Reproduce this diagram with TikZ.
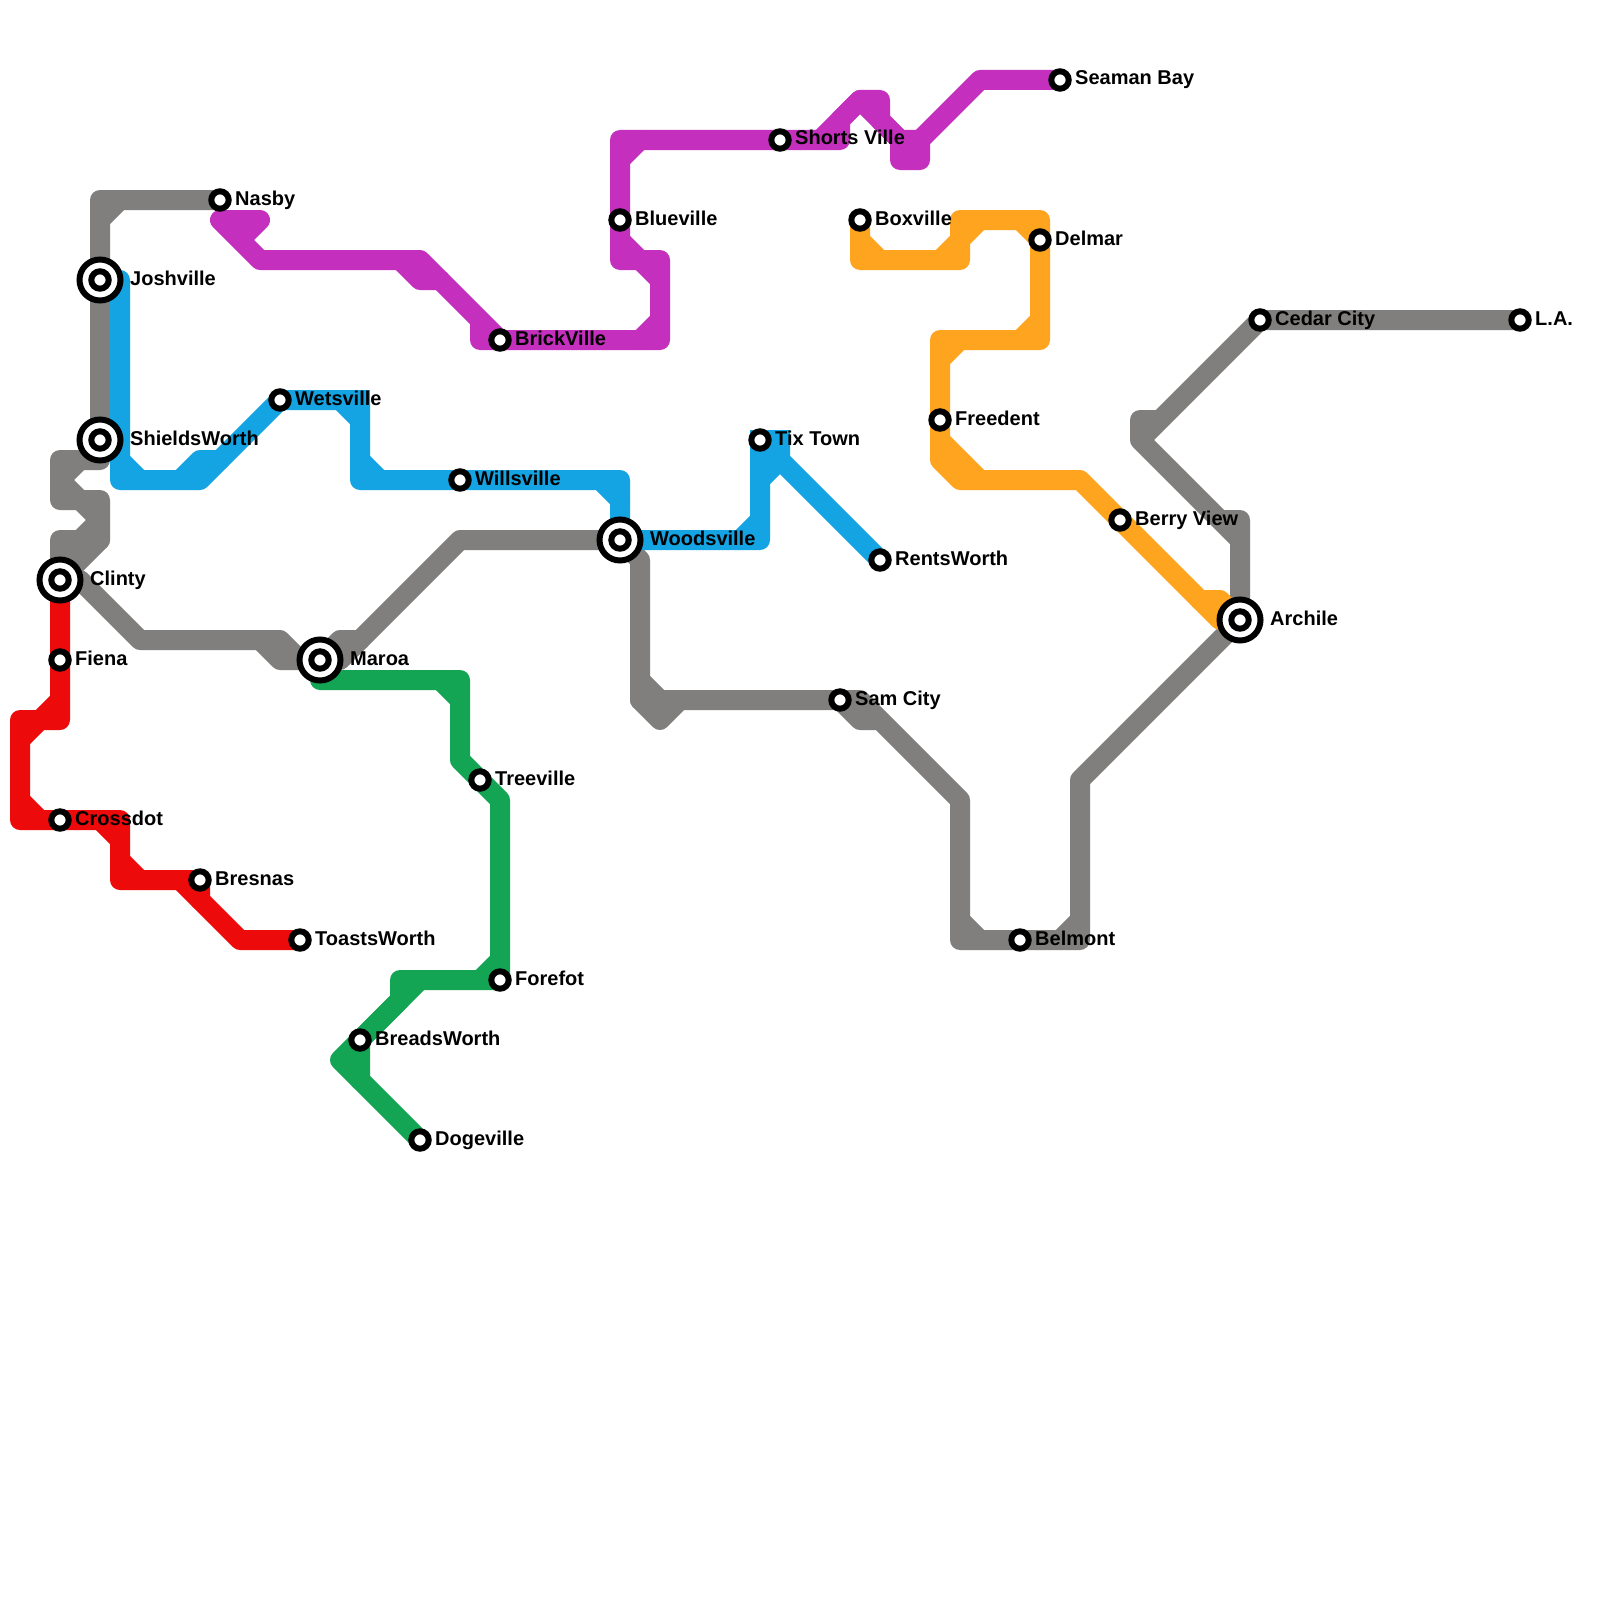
\documentclass[tikz,border=0pt]{standalone}
\usepackage{xcolor}
\usepackage{fontspec}
\setmainfont{Liberation Sans}
\usetikzlibrary{backgrounds}
\definecolor{linegrey}{RGB}{128,127,125}
\definecolor{lineblue}{RGB}{20,163,227}
\definecolor{linered}{RGB}{237,10,10}
\definecolor{linepurple}{RGB}{197,47,190}
\definecolor{lineorange}{RGB}{254,164,30}
\definecolor{linegreen}{RGB}{19,165,84}
\tikzset{
  metroline/.style={line width=20pt, line join=round, line cap=round},
  squarecorner/.style={line width=20pt, line cap=rect},
  stop/.style={circle, draw=black, fill=white, line width=6pt, minimum size=17.4pt, inner sep=0pt},
  hub/.style={circle, draw=black, fill=white, line width=6pt, minimum size=41pt, inner sep=0pt},
  stoplabel/.style={anchor=base west, inner sep=0pt, font=\fontsize{20}{20}\selectfont\bfseries}
}

\begin{document}
\begin{tikzpicture}[x=1pt, y=-1pt]
  \useasboundingbox (0,0) rectangle (1600,1600);

  % Interchanges
  \node[hub] (joshville) at (100,280) {};
  \node[stop] (joshvilledot) at (100,280) {};
  \node[hub] (shieldsworth) at (100,440) {};
  \node[stop] (shieldsworthdot) at (100,440) {};
  \node[hub] (clinty) at (60,580) {};
  \node[stop] (clintydot) at (60,580) {};
  \node[hub] (maroa) at (320,660) {};
  \node[stop] (maroadot) at (320,660) {};
  \node[hub] (woodsville) at (620,540) {};
  \node[stop] (woodsvilledot) at (620,540) {};
  \node[hub] (archile) at (1240,620) {};
  \node[stop] (archiledot) at (1240,620) {};

  % Stops
  \node[stop] (nasby) at (220,200) {};
  \node[stop] (fiena) at (60,660) {};
  \node[stop] (crossdot) at (60,820) {};
  \node[stop] (bresnas) at (200,880) {};
  \node[stop] (toastsworth) at (300,940) {};
  \node[stop] (wetsville) at (280,400) {};
  \node[stop] (willsville) at (460,480) {};
  \node[stop] (brickville) at (500,340) {};
  \node[stop] (blueville) at (620,220) {};
  \node[stop] (shortsville) at (780,140) {};
  \node[stop] (seamanbay) at (1060,80) {};
  \node[stop] (boxville) at (860,220) {};
  \node[stop] (delmar) at (1040,240) {};
  \node[stop] (freedent) at (940,420) {};
  \node[stop] (tixtown) at (760,440) {};
  \node[stop] (rentsworth) at (880,560) {};
  \node[stop] (samcity) at (840,700) {};
  \node[stop] (belmont) at (1020,940) {};
  \node[stop] (berryview) at (1120,520) {};
  \node[stop] (cedarcity) at (1260,320) {};
  \node[stop] (la) at (1520,320) {};
  \node[stop] (treeville) at (480,780) {};
  \node[stop] (forefot) at (500,980) {};
  \node[stop] (breadsworth) at (360,1040) {};
  \node[stop] (dogeville) at (420,1140) {};

  % Labels
  \node[stoplabel] (joshvilletext) at (130,285) {Joshville};
  \node[stoplabel] (shieldsworthtext) at (130,445) {ShieldsWorth};
  \node[stoplabel] (clintytext) at (90,585) {Clinty};
  \node[stoplabel] (maroatext) at (350,665) {Maroa};
  \node[stoplabel] (woodsvilletext) at (650,545) {Woodsville};
  \node[stoplabel] (archiletext) at (1270,625) {Archile};
  \node[stoplabel] (nasbytext) at (235,205) {Nasby};
  \node[stoplabel] (fienatext) at (75,665) {Fiena};
  \node[stoplabel] (crossdottext) at (75,825) {Crossdot};
  \node[stoplabel] (bresnastext) at (215,885) {Bresnas};
  \node[stoplabel] (toastsworthtext) at (315,945) {ToastsWorth};
  \node[stoplabel] (wetsvilletext) at (295,405) {Wetsville};
  \node[stoplabel] (willsvilletext) at (475,485) {Willsville};
  \node[stoplabel] (brickvilletext) at (515,345) {BrickVille};
  \node[stoplabel] (bluevilletext) at (635,225) {Blueville};
  \node[stoplabel] (shortsvilletext) at (795,145) {Shorts Ville};
  \node[stoplabel] (seamanbaytext) at (1075,85) {Seaman Bay};
  \node[stoplabel] (boxvilletext) at (875,225) {Boxville};
  \node[stoplabel] (delmartext) at (1055,245) {Delmar};
  \node[stoplabel] (freedenttext) at (955,425) {Freedent};
  \node[stoplabel] (tixtowntext) at (775,445) {Tix Town};
  \node[stoplabel] (rentsworthtext) at (895,565) {RentsWorth};
  \node[stoplabel] (samcitytext) at (855,705) {Sam City};
  \node[stoplabel] (belmonttext) at (1035,945) {Belmont};
  \node[stoplabel] (berryviewtext) at (1135,525) {Berry View};
  \node[stoplabel] (cedarcitytext) at (1275,325) {Cedar City};
  \node[stoplabel] (latext) at (1535,325) {L.A.};
  \node[stoplabel] (treevilletext) at (495,785) {Treeville};
  \node[stoplabel] (forefottext) at (515,985) {Forefot};
  \node[stoplabel] (breadsworthtext) at (375,1045) {BreadsWorth};
  \node[stoplabel] (dogevilletext) at (435,1145) {Dogeville};

  \begin{scope}[on background layer]
    \fill[white] (0,0) rectangle (1600,1600);

    % Grey line
    \draw[metroline, linegrey] (nasby.center) -- (100,200) -- (joshville.center) -- (shieldsworth.center) -- (100,460) -- (60,460) -- (60,500) -- (100,500) -- (100,540) -- (clinty.center);
    \draw[metroline, linegrey] (100,220) -- (120,200) (80,460) -- (60,480) -- (80,500) -- (100,520) -- (80,540) (100,540) -- (60,540) -- (clinty.center) (60,560) -- (80,540);
    \draw[metroline, linegrey] (clinty.center) -- (80,580) -- (140,640) -- (280,640) -- (300,660) -- (maroa.center);
    \draw[metroline, linegrey] (260,640) -- (280,660) -- (maroa.center) -- (340,640) -- (360,640);
    \draw[metroline, linegrey] (maroa.center) -- (340,660) -- (460,540) -- (woodsville.center) -- (640,560) -- (640,700) -- (660,720) -- (680,700) -- (samcity.center);
    \draw[metroline, linegrey] (640,680) -- (660,700) (640,700) -- (680,700);
    \draw[metroline, linegrey] (samcity.center) -- (860,720) -- (880,720) (samcity.center) -- (860,700) -- (960,800) -- (960,940) -- (belmont.center) -- (1080,940) -- (1080,780) -- (archile.center);
    \draw[metroline, linegrey] (960,920) -- (980,940) (1080,920) -- (1060,940);
    \draw[metroline, linegrey] (archile.center) -- (1240,520) -- (1220,520) (1240,540) -- (1140,440) -- (1140,420) -- (1160,420) (1140,440) -- (cedarcity.center) -- (la.center);

    % Blue line
    \draw[metroline, lineblue] (joshville.center) -- (120,280) -- (120,480) -- (200,480) -- (wetsville.center) -- (360,400) -- (360,480) -- (willsville.center) -- (620,480) -- (woodsville.center) -- (760,540) -- (tixtown.center);
    \draw[metroline, lineblue] (120,460) -- (140,480) (180,480) -- (200,460) -- (220,460);
    \draw[metroline, lineblue] (340,400) -- (360,420) (360,460) -- (380,480) (600,480) -- (620,500) (760,520) -- (740,540);
    \draw[squarecorner, lineblue] (340,400) -- (360,400);
    \draw[squarecorner, lineblue] (tixtown.center) -- (780,440);
    \draw[metroline, lineblue] (780,440) -- (780,460) -- (rentsworth.center) (780,460) -- (760,480);

    % Red line
    \draw[metroline, linered] (clinty.center) -- (fiena.center) -- (60,720) -- (20,720) -- (20,820) -- (crossdot.center) -- (120,820) -- (120,880) -- (bresnas.center) -- (200,900) -- (240,940) -- (toastsworth.center);
    \draw[metroline, linered] (60,700) -- (20,740) (20,800) -- (40,820) (100,820) -- (120,840) (120,860) -- (140,880) (180,880) -- (200,900);

    % Purple line
    \draw[metroline, linepurple] (240,240) -- (260,220) -- (220,220) -- (260,260) -- (420,260) -- (brickville.center) -- (480,340) -- (480,320) (brickville.center) -- (660,340) -- (660,260) -- (620,260) -- (blueville.center) -- (620,140) -- (shortsville.center) -- (840,140) -- (840,120) -- (860,100) -- (880,100) -- (880,120) -- (900,140) -- (900,160) -- (920,160) -- (920,140) -- (980,80) -- (seamanbay.center);
    \draw[metroline, linepurple] (400,260) -- (420,280) -- (440,280);
    \draw[metroline, linepurple] (640,340) -- (660,320) (640,260) -- (660,280) (620,240) -- (640,260) (620,160) -- (640,140);
    \draw[metroline, linepurple] (820,140) -- (860,100) -- (900,140) -- (920,140);

    % Orange line
    \draw[metroline, lineorange] (boxville.center) -- (860,260) -- (960,260) -- (960,220) -- (1040,220) -- (delmar.center) -- (1040,340) -- (940,340) -- (freedent.center) -- (940,460) -- (960,480) -- (1080,480) -- (berryview.center) -- (1220,620) -- (archile.center);
    \draw[metroline, lineorange] (860,240) -- (880,260) (940,260) -- (980,220) (1020,220) -- (1040,240);
    \draw[metroline, lineorange] (1040,320) -- (1020,340) (940,360) -- (960,340) (940,440) -- (980,480);
    \draw[metroline, lineorange] (1200,600) -- (1220,600) -- (archile.center);

    % Green line
    \draw[metroline, linegreen] (maroa.center) -- (320,680) -- (460,680) -- (460,760) -- (treeville.center) -- (500,800) -- (forefot.center) -- (400,980) -- (400,1000) -- (breadsworth.center) -- (340,1060) -- (dogeville.center);
    \draw[metroline, linegreen] (440,680) -- (460,700) (500,960) -- (480,980) (420,980) -- (breadsworth.center) -- (360,1080);
  \end{scope}
\end{tikzpicture}
\end{document}
